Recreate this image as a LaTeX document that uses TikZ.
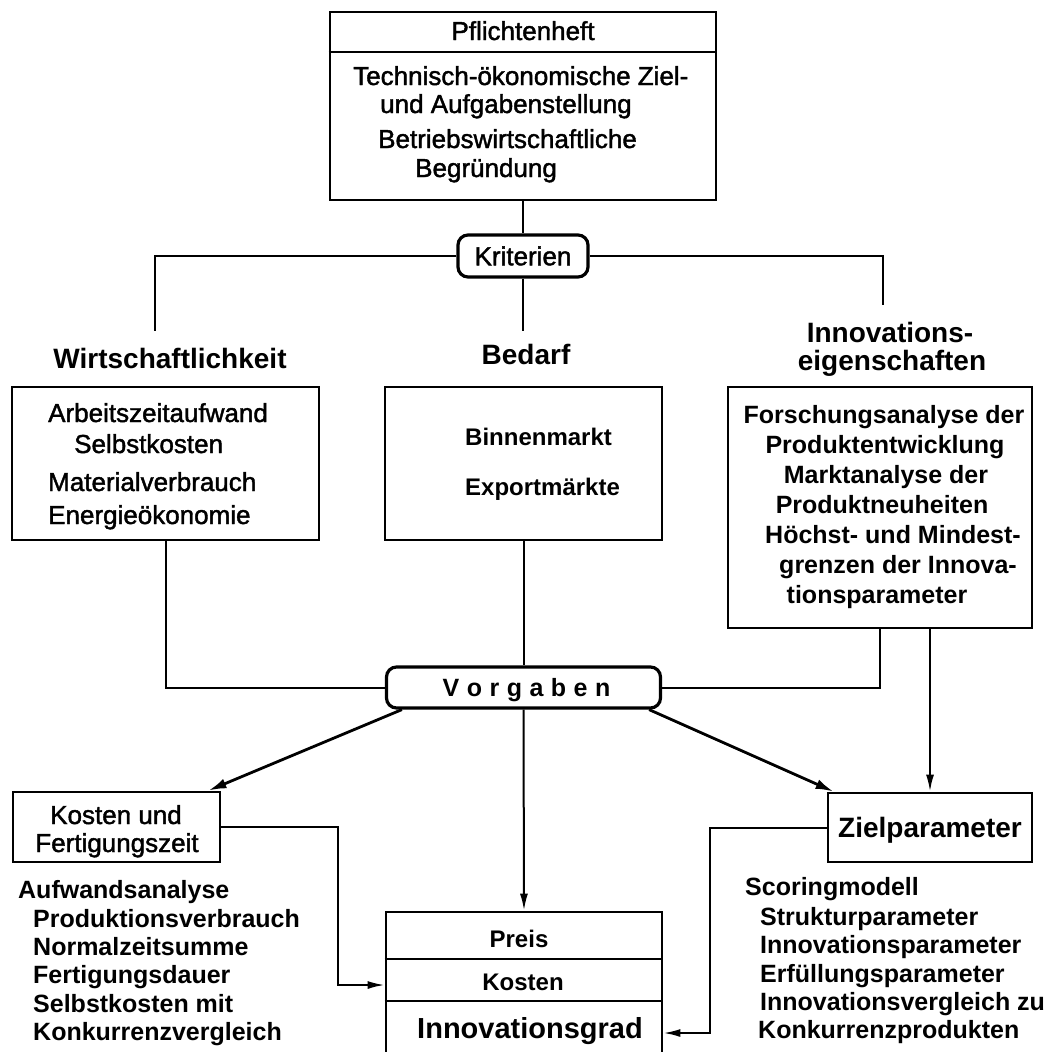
\documentclass[tikz,border=0pt]{standalone}
\usepackage{fontspec}
\setmainfont{Liberation Sans}
\newfontfamily\scanfont{Liberation Sans}[FakeBold=1.6]
\usetikzlibrary{arrows.meta}
\tikzset{
  box/.style={draw, line width=2.8pt, inner sep=0pt},
  rbox/.style={draw, line width=3.2pt, rounded corners=10pt, inner sep=0pt},
  conn/.style={line width=2pt},
  arr/.style={line width=2pt, -{Latex[length=17pt,width=8pt]}},
  darr/.style={line width=2.8pt, -{Latex[length=18pt,width=10pt]}},
  head/.style={inner sep=0pt, anchor=base, font=\fontsize{28}{32}\selectfont\bfseries},
  scanl/.style={inner sep=0pt, anchor=base west, font=\fontsize{26}{30}\selectfont\scanfont},
  scanc/.style={inner sep=0pt, anchor=base, font=\fontsize{26}{30}\selectfont\scanfont},
  lstl/.style={inner sep=0pt, anchor=base west, font=\fontsize{25}{28}\selectfont\bfseries},
  lstc/.style={inner sep=0pt, anchor=base, font=\fontsize{25}{28}\selectfont\bfseries},
}
\begin{document}
\begin{tikzpicture}[x=1pt,y=-1pt]
\useasboundingbox (0,0) rectangle (1046,1052);
\clip (0,0) rectangle (1046,1052);

% ---------- top box ----------
\node[box, minimum width=386pt, minimum height=188pt] (top) at (523,106) {};
\draw[conn] (top.west |- 0,52) -- (top.east |- 0,52);
\node[scanc] (ph) at (523,40) {Pflichtenheft};
\node[scanl] (t1) at (353,85) {Technisch-ökonomische Ziel-};
\node[scanl] (t2) at (380,113) {und Aufgabenstellung};
\node[scanl] (t3) at (378,148) {Betriebswirtschaftliche};
\node[scanl] (t4) at (415,177) {Begründung};

% ---------- Kriterien ----------
\node[rbox, minimum width=130pt, minimum height=42pt,
      font=\fontsize{26}{30}\selectfont\scanfont] (krit) at (523,256) {Kriterien};
\draw[conn] (top.south) -- (krit.north);
\coordinate (lw) at (155,331);
\coordinate (mw) at (523,331);
\coordinate (rw) at (883,305);
\draw[conn] (krit.west) -| (lw);
\draw[conn] (krit.east) -| (rw);
\draw[conn] (krit.south) -- (mw);

% ---------- headings ----------
\node[head] (hw) at (170,368) {Wirtschaftlichkeit};
\node[head] (hb) at (526,364) {Bedarf};
\node[head] (hi1) at (890,342) {Innovations-};
\node[head] (hi2) at (892,370) {eigenschaften};

% ---------- left box ----------
\node[box, minimum width=307pt, minimum height=153pt] (lbox) at (165.5,463.5) {};
\node[scanl] (l1) at (48,422) {Arbeitszeitaufwand};
\node[scanl] (l2) at (74,453) {Selbstkosten};
\node[scanl] (l3) at (48,491) {Materialverbrauch};
\node[scanl] (l4) at (48,524) {Energieökonomie};

% ---------- middle box ----------
\node[box, minimum width=277pt, minimum height=153pt] (mbox) at (523.5,463.5) {};
\node[inner sep=0pt, anchor=base west, font=\fontsize{24}{28}\selectfont\bfseries] (m1) at (465,445) {Binnenmarkt};
\node[inner sep=0pt, anchor=base west, font=\fontsize{24}{28}\selectfont\bfseries] (m2) at (465,495) {Exportmärkte};

% ---------- right box ----------
\node[box, minimum width=304pt, minimum height=241pt] (rbx) at (880,507.5) {};
\node[lstc] (r1) at (884,423) {Forschungsanalyse der};
\node[lstc] (r2) at (885,453) {Produktentwicklung};
\node[lstc] (r3) at (886,483) {Marktanalyse der};
\node[lstc] (r4) at (882,513) {Produktneuheiten};
\node[lstc] (r5) at (893,543) {Höchst- und Mindest-};
\node[lstc] (r6) at (898,573) {grenzen der Innova-};
\node[lstc] (r7) at (877,603) {tionsparameter};

% ---------- Vorgaben ----------
\node[rbox, minimum width=274pt, minimum height=41pt, text height=18pt, text depth=0pt,
      font=\fontsize{25}{28}\selectfont\bfseries] (vorg) at (523.5,687.5)
  {\hspace*{6pt}V\hspace{7.5pt}o\hspace{7.5pt}r\hspace{7.5pt}g\hspace{7.5pt}a\hspace{7.5pt}b\hspace{7.5pt}e\hspace{7.5pt}n};
\draw[conn] (lbox.south) |- (vorg.west);
\draw[conn] (mbox.south) -- (vorg.north);
\draw[conn] (rbx.south) |- (vorg.east);

% ---------- Kosten und Fertigungszeit ----------
\node[box, minimum width=207pt, minimum height=70pt] (kost) at (116.5,827) {};
\node[scanc] (k1) at (116,824) {Kosten und};
\node[scanc] (k2) at (117,852) {Fertigungszeit};

% ---------- Zielparameter ----------
\node[box, minimum width=204pt, minimum height=69pt, text height=20pt, text depth=0pt,
      font=\fontsize{28}{32}\selectfont\bfseries] (ziel) at (930,827.5) {Zielparameter};

% ---------- bottom box ----------
\node[box, minimum width=276pt, minimum height=160pt] (bot) at (524,992) {};
\draw[conn] (bot.west |- 0,959) -- (bot.east |- 0,959);
\draw[conn] (bot.west |- 0,1001) -- (bot.east |- 0,1001);
\node[inner sep=0pt, anchor=base, font=\fontsize{24}{28}\selectfont\bfseries] (p1) at (519,947) {Preis};
\node[inner sep=0pt, anchor=base, font=\fontsize{24}{28}\selectfont\bfseries] (p2) at (523,990) {Kosten};
\node[inner sep=0pt, anchor=base, font=\fontsize{29}{32}\selectfont\bfseries] (p3) at (530,1038) {Innovationsgrad};

% ---------- arrows ----------
\draw[darr] ([xshift=17pt]vorg.south west) -- ([xshift=-13pt]kost.north east);
\draw[darr] ([xshift=-13pt]vorg.south east) -- ([xshift=7pt]ziel.north west);
\draw[arr] (vorg.south) -- (bot.north);
\draw[arr] ([xshift=50pt]rbx.south) -- ([xshift=50pt]rbx.south |- ziel.north);
\coordinate (kb) at (338,985);
\draw[arr] (kost.east) -| (kb) -- (kb -| bot.west);
\coordinate (zb) at (710,1033);
\draw[arr] (ziel.west) -| (zb) -- (zb -| bot.east);

% ---------- lists ----------
\node[lstl] (a0) at (18,898) {Aufwandsanalyse};
\node[lstl] (a1) at (33,927) {Produktionsverbrauch};
\node[lstl] (a2) at (33,955) {Normalzeitsumme};
\node[lstl] (a3) at (33,983) {Fertigungsdauer};
\node[lstl] (a4) at (33,1012) {Selbstkosten mit};
\node[lstl] (a5) at (33,1040) {Konkurrenzvergleich};

\node[lstl] (s0) at (745,895) {Scoringmodell};
\node[lstl] (s1) at (760,925) {Strukturparameter};
\node[lstl] (s2) at (760,953) {Innovationsparameter};
\node[lstl] (s3) at (760,982) {Erfüllungsparameter};
\node[lstl] (s4) at (760,1010) {Innovationsvergleich zu};
\node[lstl] (s5) at (758,1038) {Konkurrenzprodukten};
\end{tikzpicture}
\end{document}
